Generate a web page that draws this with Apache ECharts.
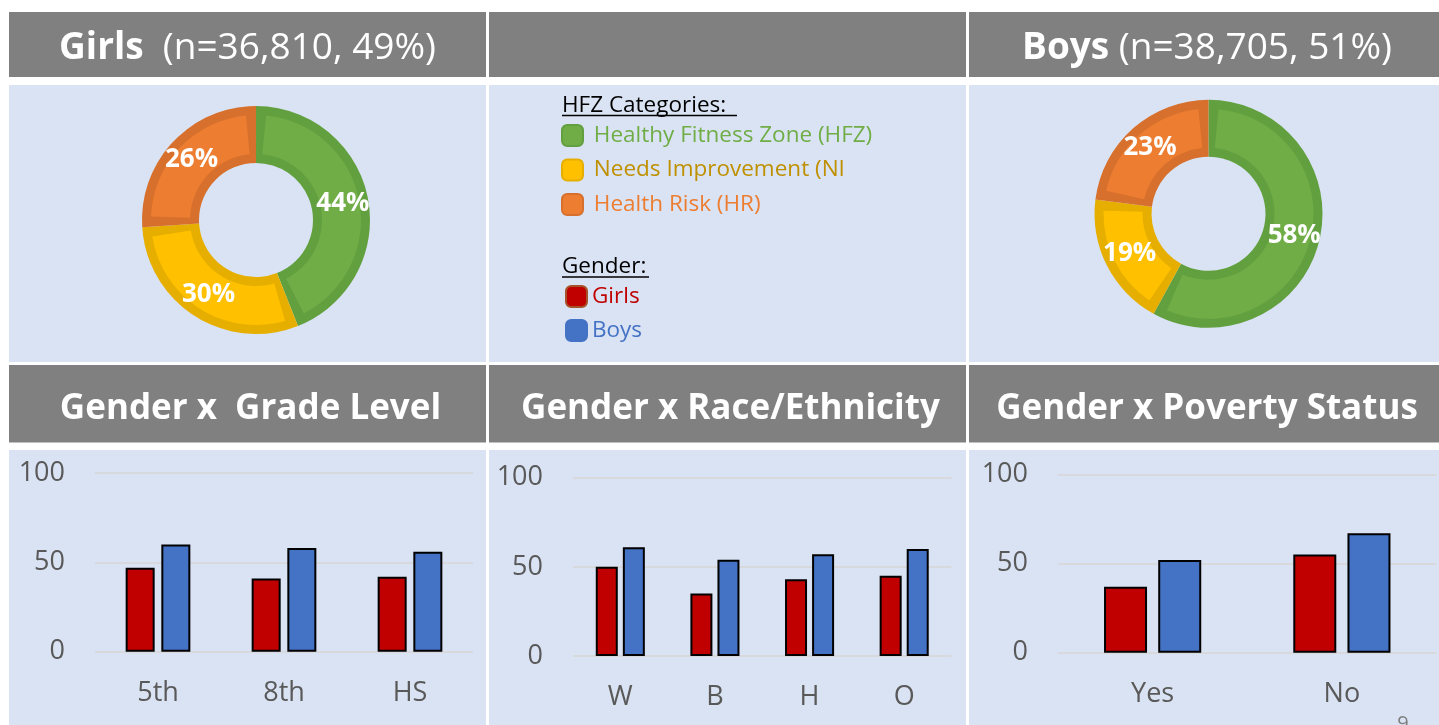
<!DOCTYPE html>
<html>
<head>
<meta charset="utf-8">
<script src="https://cdn.jsdelivr.net/npm/echarts@6/dist/echarts.min.js"></script>
<style>
  html, body { margin: 0; padding: 0; background: #fff; }
  #chart { width: 1439px; height: 725px; }
</style>
</head>
<body>
<div id="chart"></div>
<script>
// HFZ share per gender (%)
const hfzNames = ['Healthy Fitness Zone (HFZ)', 'Needs Improvement (NI', 'Health Risk (HR)'];
const girlsHfz = [44, 30, 26];
const boysHfz = [58, 19, 23];

// % in HFZ by subgroup
const gradeCats = ['5th', '8th', 'HS'];
const gradeGirls = [47, 41, 42];
const gradeBoys = [60, 58, 56];
const raceCats = ['W', 'B', 'H', 'O'];
const raceGirls = [50, 35, 43, 45];
const raceBoys = [61, 54, 57, 60];
const povertyCats = ['Yes', 'No'];
const povertyGirls = [37, 55];
const povertyBoys = [52, 67];

const genderNames = ['Girls', 'Boys'];
const headers = ['Gender x  Grade Level', 'Gender x Race/Ethnicity', 'Gender x Poverty Status'];

const FONT = '"Open Sans", sans-serif';
const GRAY = '#808080';
const PANEL = '#DAE3F3';
const fill = ['#70AD47', '#FFC000', '#ED7D31'];
const dark = ['#62A03F', '#E6AF00', '#D6702C'];
const genderColor = ['#C00000', '#4472C4'];
const textColors = ['#70AD47', '#BF9000', '#ED7D31'];

const cols = [[9, 477], [489, 477], [969, 470]];

const myChart = echarts.init(document.getElementById('chart'));

const graphic = [];
cols.forEach(([x, w], i) => {
  graphic.push({ type: 'rect', z: -10, shape: { x, y: 12, width: w, height: 65 }, style: { fill: GRAY } });
  graphic.push({ type: 'rect', z: -10, shape: { x, y: 85, width: w, height: 277 }, style: { fill: PANEL } });
  graphic.push({ type: 'rect', z: -10, shape: { x, y: 365, width: w, height: 77.5 }, style: { fill: GRAY } });
  graphic.push({ type: 'rect', z: -10, shape: { x, y: 450, width: w, height: 275 }, style: { fill: PANEL } });
  graphic.push({
    type: 'text', z: 5, x: x + w / 2 + 3, y: 409,
    style: { text: headers[i], fill: '#fff', font: `bold 35px ${FONT}`, align: 'center', verticalAlign: 'middle' },
  });
});
const headRich = {
  b: { fill: '#fff', fontFamily: FONT, fontWeight: 'bold', fontSize: 37 },
  r: { fill: '#fff', fontFamily: FONT, fontSize: 37 },
};
graphic.push({
  type: 'text', z: 5, x: 247.5, y: 48,
  style: { text: '{b|Girls}{r|  (n=36,810, 49%)}', rich: headRich, align: 'center', verticalAlign: 'middle' },
});
graphic.push({
  type: 'text', z: 5, x: 1207, y: 48,
  style: { text: '{b|Boys}{r| (n=38,705, 51%)}', rich: headRich, align: 'center', verticalAlign: 'middle' },
});
// legend headings
graphic.push({
  type: 'text', z: 5, x: 562, y: 106,
  style: { text: 'HFZ Categories: ', fill: '#000', font: `22.5px ${FONT}`, verticalAlign: 'middle' },
});
graphic.push({ type: 'line', z: 5, shape: { x1: 562, y1: 115.5, x2: 737, y2: 115.5 }, style: { stroke: '#000', lineWidth: 1.5 } });
graphic.push({
  type: 'text', z: 5, x: 562, y: 267,
  style: { text: 'Gender:', fill: '#000', font: `22.5px ${FONT}`, verticalAlign: 'middle' },
});
graphic.push({ type: 'line', z: 5, shape: { x1: 562, y1: 277, x2: 649, y2: 277 }, style: { stroke: '#000', lineWidth: 1.5 } });
graphic.push({
  type: 'text', z: 5, x: 1403, y: 714,
  style: { text: '9', fill: '#7F7F7F', font: `20px ${FONT}`, align: 'center' },
});

const donut = (values, center) => [
  {
    type: 'pie',
    z: 3,
    center,
    radius: [66, 105],
    startAngle: 90,
    padAngle: 11,
    silent: true,
    data: values.map((v, i) => ({ name: hfzNames[i], value: v, itemStyle: { color: fill[i] } })),
    label: {
      position: 'inside',
      formatter: '{c}%',
      color: '#fff',
      fontFamily: FONT,
      fontWeight: 'bold',
      fontSize: 26,
    },
    labelLine: { show: false },
  },
  {
    type: 'pie',
    z: 2,
    center,
    radius: [57, 114],
    startAngle: 90,
    silent: true,
    data: values.map((v, i) => ({ name: hfzNames[i], value: v, itemStyle: { color: dark[i] } })),
    label: { show: false },
    labelLine: { show: false },
  },
];

const grids = [
  { left: 95, top: 473, width: 378, height: 178.7 },
  { left: 573, top: 477.7, width: 378.5, height: 178.3 },
  { left: 1058, top: 474.3, width: 378.5, height: 178.4 },
];
const barCats = [gradeCats, raceCats, povertyCats];
const barGirls = [gradeGirls, raceGirls, povertyGirls];
const barBoys = [gradeBoys, raceBoys, povertyBoys];
const barWidths = [29, 22, 43];
const barGaps = ['23%', '23%', '26%'];

const serie = {
  type: 'bar',
  silent: true,
  itemStyle: { borderColor: '#000', borderWidth: 2 },
};

const barSeries = [];
grids.forEach((_, i) => {
  [barGirls[i], barBoys[i]].forEach((data, g) => {
    barSeries.push({
      ...serie,
      name: genderNames[g],
      xAxisIndex: i,
      yAxisIndex: i,
      barWidth: barWidths[i],
      barGap: barGaps[i],
      itemStyle: { ...serie.itemStyle, color: genderColor[g] },
      data,
    });
  });
});

myChart.setOption({
  animation: false,
  backgroundColor: '#fff',
  graphic,
  legend: [
    {
      orient: 'vertical',
      left: 561,
      top: 124,
      padding: 0,
      itemWidth: 21,
      itemHeight: 21,
      itemGap: 11.5,
      icon: 'roundRect',
      selectedMode: false,
      formatter: ' {name}',
      textStyle: { fontFamily: FONT, fontSize: 22.5, lineHeight: 21 },
      data: hfzNames.map((name, i) => ({
        name,
        itemStyle: { color: fill[i], borderColor: dark[i], borderWidth: 2 },
        textStyle: { color: textColors[i] },
      })),
    },
    {
      orient: 'vertical',
      left: 565,
      top: 285,
      padding: 0,
      itemWidth: 21,
      itemHeight: 21,
      itemGap: 11,
      icon: 'roundRect',
      selectedMode: false,
      textStyle: { fontFamily: FONT, fontSize: 22.5, lineHeight: 21 },
      data: genderNames.map((name, i) => ({
        name,
        itemStyle: { color: genderColor[i], borderColor: i ? genderColor[i] : '#A5522A', borderWidth: 2 },
        textStyle: { color: genderColor[i] },
      })),
    },
  ],
  grid: grids,
  xAxis: grids.map((_, i) => ({
    type: 'category',
    gridIndex: i,
    data: barCats[i],
    axisLine: { show: false },
    axisTick: { show: false },
    axisLabel: { color: '#595959', fontFamily: FONT, fontSize: 27, margin: 28 },
  })),
  yAxis: grids.map((_, i) => ({
    type: 'value',
    gridIndex: i,
    min: 0,
    max: 100,
    interval: 50,
    axisLabel: { color: '#595959', fontFamily: FONT, fontSize: 27, margin: 30 },
    splitLine: { show: true, lineStyle: { color: '#D6D6D6', width: 1.5 } },
  })),
  series: [...donut(girlsHfz, [256, 220]), ...donut(boysHfz, [1208.5, 213.8]), ...barSeries],
});
</script>
</body>
</html>
